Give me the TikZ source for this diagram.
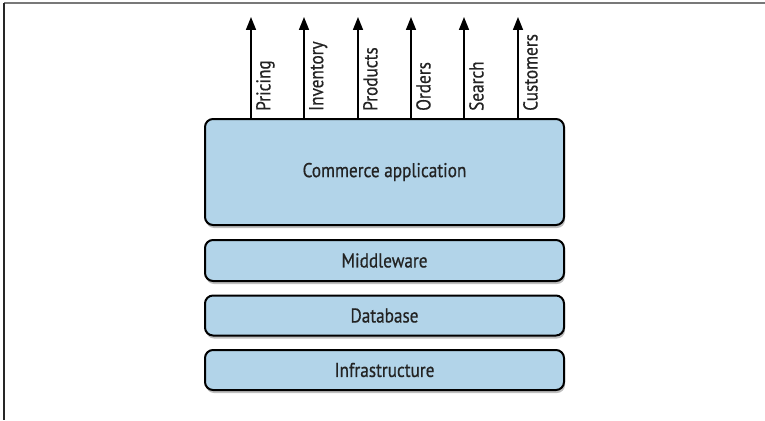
\documentclass[tikz,border=0pt]{standalone}
\usepackage{fontspec}
\setmainfont[FakeStretch=0.86,FakeBold=0.6]{PT Sans}
\usetikzlibrary{arrows.meta,shadows,calc}
\definecolor{boxblue}{RGB}{178,212,233}
\definecolor{framegray}{RGB}{120,120,120}
\definecolor{txt}{RGB}{35,35,35}
\tikzset{
  layer/.style={draw=black, line width=2pt, fill=boxblue, rounded corners=8pt,
    minimum width=359pt, inner sep=0pt, text=txt, font=\fontsize{20}{22}\selectfont,
    drop shadow={shadow xshift=1pt, shadow yshift=-3pt, opacity=0.25, fill=black}},
  arr/.style={line width=1.6pt, -{Triangle[length=13pt,width=10pt]}},
  lbl/.style={rotate=90, anchor=north west, inner sep=0pt, text=txt, font=\fontsize{20}{22}\selectfont}
}
\begin{document}
\begin{tikzpicture}[x=1pt,y=-1pt]
\useasboundingbox (0,0) rectangle (765,420);
\draw[framegray, line width=1.6pt] (4,3) -- (765,3);
\draw[black!85, line width=1.6pt] (4,3) -- (4,420);

\node[layer, minimum height=106pt] (app) at (384.5,172) {Commerce application};
\node[layer, minimum height=41pt] (mid) at (384.5,260.5) {Middleware};
\node[layer, minimum height=40pt] (db) at (384.5,315.5) {Database};
\node[layer, minimum height=40pt] (inf) at (384.5,370) {Infrastructure};

\foreach \n/\x/\t in {1/251/Pricing,2/304/Inventory,3/358/Products,4/411/Orders,5/464/Search,6/518/Customers}{
  \coordinate (t\n) at (\x,17);
  \draw[arr] (t\n |- app.north) -- (t\n);
  \node[lbl] (l\n) at (\x+5,111) {\t};
}
\end{tikzpicture}
\end{document}
